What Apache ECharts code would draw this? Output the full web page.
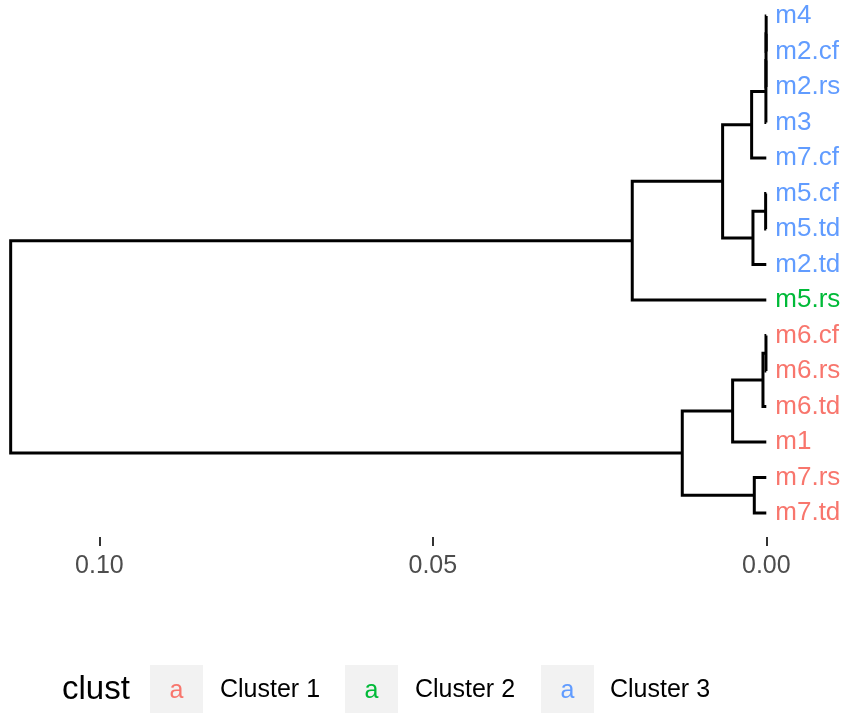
<!DOCTYPE html>
<html>
<head>
<meta charset="utf-8">
<script src="https://cdn.jsdelivr.net/npm/echarts@6/dist/echarts.min.js"></script>
<style>
  html, body { margin: 0; padding: 0; background: #fff; }
  #chart { width: 843px; height: 713px; }
</style>
</head>
<body>
<div id="chart"></div>
<script>
// leaves, top to bottom
var leafNames = ['m4', 'm2.cf', 'm2.rs', 'm3', 'm7.cf', 'm5.cf', 'm5.td', 'm2.td', 'm5.rs',
  'm6.cf', 'm6.rs', 'm6.td', 'm1', 'm7.rs', 'm7.td'];
var leafCluster = [2, 2, 2, 2, 2, 2, 2, 2, 1, 0, 0, 0, 0, 0, 0];

// hclust style merges: negative = leaf (1-based), positive = earlier merge
var mergeA = [-1, 1, 2, 3, -6, 5, 4, 7, -10, 9, 10, -14, 11, 8];
var mergeB = [-2, -3, -4, -5, -7, -8, 6, -9, -11, -12, -13, -15, 12, 13];
var mergeHeight = [0.00002, 0.00004, 0.00006, 0.0022, 0.0001, 0.002, 0.00655, 0.0201,
  0.00005, 0.0005, 0.00505, 0.0018, 0.0126, 0.1133];

var tickValues = [0, 0.05, 0.10];
var clusterNames = ['Cluster 1', 'Cluster 2', 'Cluster 3'];
var clusterColors = ['#F8766D', '#00BA38', '#619CFF'];

var font = 'Liberation Sans, Arial, sans-serif';

// node positions
var nodeX = [], nodeY = [];
function pos(ref) {
  if (ref < 0) return [0, -ref - 1];
  return [nodeX[ref - 1], nodeY[ref - 1]];
}
var segs = [];
for (var k = 0; k < mergeA.length; k++) {
  var a = pos(mergeA[k]), b = pos(mergeB[k]), h = mergeHeight[k];
  nodeX.push(h);
  nodeY.push((a[1] + b[1]) / 2);
  segs.push({ coords: [[a[0], a[1]], [h, a[1]], [h, b[1]], [b[0], b[1]]] });
}

var leafData = leafNames.map(function (n, i) {
  return {
    name: n,
    value: [0, i],
    label: { color: clusterColors[leafCluster[i]] }
  };
});

var chart = echarts.init(document.getElementById('chart'), null, { renderer: 'canvas' });

var graphics = [{
  type: 'text', x: 62, y: 690,
  style: { text: 'clust', fontSize: 33, fontFamily: font, fill: '#000', verticalAlign: 'middle' }
}];
var boxX = [150, 345, 541], textX = [220, 415, 610];
clusterNames.forEach(function (c, i) {
  graphics.push({
    type: 'rect', shape: { x: boxX[i], y: 665, width: 53, height: 48 },
    style: { fill: '#F2F2F2' }
  });
  graphics.push({
    type: 'text', x: boxX[i] + 26.5, y: 691,
    style: { text: 'a', fontSize: 25, fontFamily: font, fill: clusterColors[i], align: 'center', verticalAlign: 'middle' }
  });
  graphics.push({
    type: 'text', x: textX[i], y: 690,
    style: { text: c, fontSize: 25, fontFamily: font, fill: '#000', verticalAlign: 'middle' }
  });
});

chart.setOption({
  animation: false,
  backgroundColor: '#fff',
  grid: { left: 0, right: 0, top: 0, height: 537 },
  xAxis: {
    type: 'value',
    inverse: true,
    min: -0.0115,
    max: 0.1149,
    splitLine: { show: false },
    axisLine: { show: false, onZero: false },
    axisTick: { show: true, customValues: tickValues, length: 9, lineStyle: { color: '#333', width: 2 } },
    axisLabel: {
      customValues: tickValues,
      formatter: function (v) { return v.toFixed(2); },
      fontSize: 25, fontFamily: font, color: '#4D4D4D', margin: 17
    }
  },
  yAxis: {
    type: 'value', inverse: true, show: false,
    min: -0.4507, max: 14.676
  },
  series: [{
    type: 'lines',
    coordinateSystem: 'cartesian2d',
    polyline: true,
    silent: true,
    lineStyle: { color: '#000', width: 3, opacity: 1 },
    data: segs
  }, {
    type: 'scatter',
    symbolSize: 0,
    silent: true,
    itemStyle: { opacity: 1 },
    label: {
      show: true, position: 'right', distance: 9,
      formatter: '{b}', fontSize: 26, fontFamily: font
    },
    data: leafData
  }],
  graphic: graphics
});
</script>
</body>
</html>
